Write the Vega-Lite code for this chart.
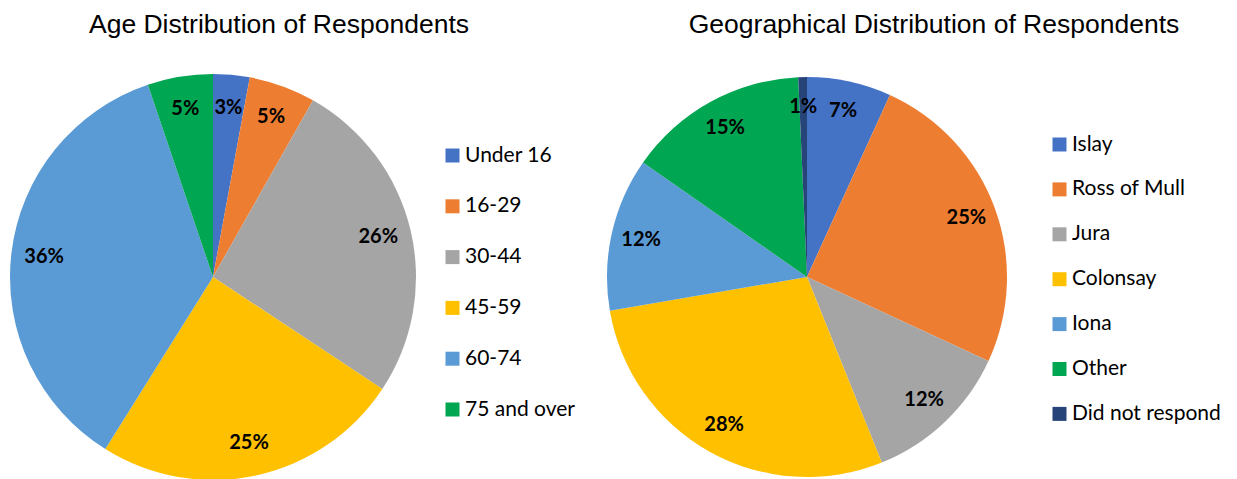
{
  "$schema": "https://vega.github.io/schema/vega-lite/v6.json",
  "padding": {"left": 10, "top": 11, "right": 0, "bottom": 0},
  "background": "white",
  "datasets": {
    "age": [
      {"group": "Under 16", "order": 1, "share": 0.029},
      {"group": "16-29", "order": 2, "share": 0.053},
      {"group": "30-44", "order": 3, "share": 0.261},
      {"group": "45-59", "order": 4, "share": 0.246},
      {"group": "60-74", "order": 5, "share": 0.359},
      {"group": "75 and over", "order": 6, "share": 0.052}
    ],
    "geo": [
      {"place": "Islay", "order": 1, "share": 0.068},
      {"place": "Ross of Mull", "order": 2, "share": 0.251},
      {"place": "Jura", "order": 3, "share": 0.120},
      {"place": "Colonsay", "order": 4, "share": 0.284},
      {"place": "Iona", "order": 5, "share": 0.124},
      {"place": "Other", "order": 6, "share": 0.146},
      {"place": "Did not respond", "order": 7, "share": 0.007}
    ]
  },
  "config": {"view": {"stroke": null}, "font": "Lato"},
  "spacing": 32,
  "hconcat": [
    {
      "width": 406,
      "height": 406,
      "title": {"text": "Age Distribution of Respondents", "font": "Liberation Sans", "fontSize": 26.5, "fontWeight": "normal", "color": "black", "frame": "group", "dx": 66, "offset": 36},
      "data": {"name": "age"},
      "encoding": {
        "theta": {"field": "share", "type": "quantitative", "stack": true},
        "order": {"field": "order", "type": "quantitative"}
      },
      "layer": [
        {
          "mark": {"type": "arc", "outerRadius": 203},
          "encoding": {
            "color": {
              "field": "group", "type": "nominal",
              "scale": {"domain": ["Under 16", "16-29", "30-44", "45-59", "60-74", "75 and over"], "range": ["#4472C4", "#ED7D31", "#A5A5A5", "#FFC000", "#5B9BD5", "#00A651"]},
              "legend": {"orient": "none", "legendX": 432, "legendY": 71, "title": null, "symbolType": "square", "symbolSize": 196, "symbolStrokeWidth": 0, "symbolOpacity": 1, "labelFontSize": 21, "labelFont": "Lato", "labelColor": "black", "rowPadding": 28.8, "labelOffset": 2, "padding": 0}
            }
          }
        },
        {
          "mark": {"type": "text", "radius": 170, "fontSize": 20, "fontWeight": "bold", "font": "Lato"},
          "encoding": {"text": {"field": "share", "type": "quantitative", "format": ".0%"}, "color": {"value": "black"}}
        }
      ]
    },
    {
      "width": 400,
      "height": 406,
      "title": {"text": "Geographical Distribution of Respondents", "font": "Liberation Sans", "fontSize": 26.5, "fontWeight": "normal", "color": "black", "frame": "group", "dx": 127, "offset": 36},
      "data": {"name": "geo"},
      "encoding": {
        "theta": {"field": "share", "type": "quantitative", "stack": true},
        "order": {"field": "order", "type": "quantitative"}
      },
      "layer": [
        {
          "mark": {"type": "arc", "outerRadius": 200},
          "encoding": {
            "color": {
              "field": "place", "type": "nominal",
              "scale": {"domain": ["Islay", "Ross of Mull", "Jura", "Colonsay", "Iona", "Other", "Did not respond"], "range": ["#4472C4", "#ED7D31", "#A5A5A5", "#FFC000", "#5B9BD5", "#00A651", "#264478"]},
              "legend": {"orient": "none", "legendX": 442, "legendY": 60, "title": null, "symbolType": "square", "symbolSize": 196, "symbolStrokeWidth": 0, "symbolOpacity": 1, "labelFontSize": 21, "labelFont": "Lato", "labelColor": "black", "rowPadding": 22.9, "labelOffset": 2, "padding": 0}
            }
          }
        },
        {
          "mark": {"type": "text", "radius": 170, "fontSize": 20, "fontWeight": "bold", "font": "Lato"},
          "encoding": {"text": {"field": "share", "type": "quantitative", "format": ".0%"}, "color": {"value": "black"}}
        }
      ]
    }
  ],
  "resolve": {"scale": {"color": "independent", "theta": "independent"}}
}
